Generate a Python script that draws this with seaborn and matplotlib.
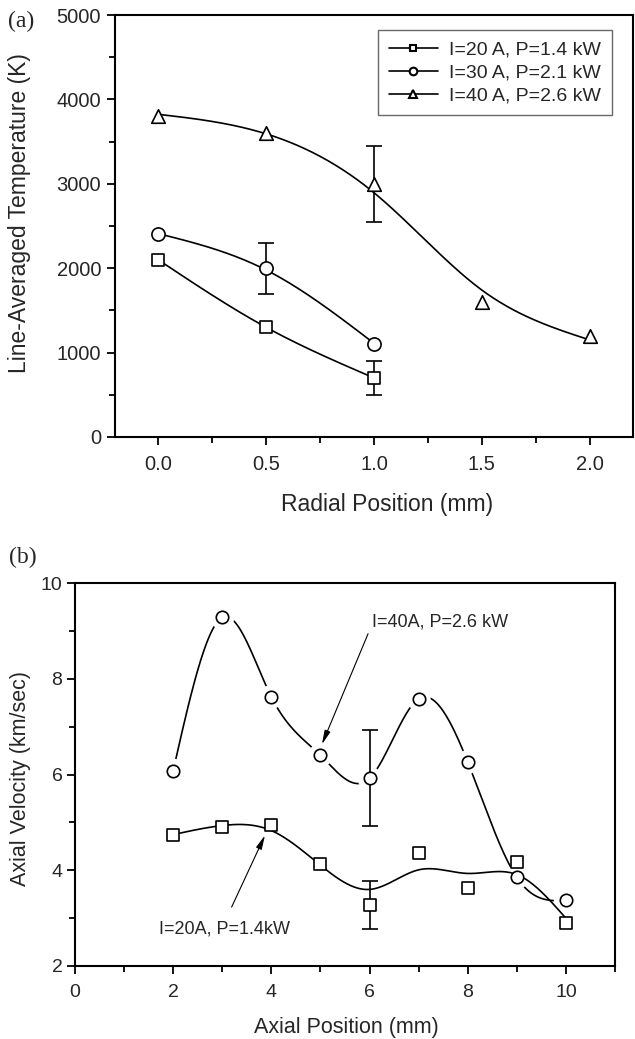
import numpy as np
import matplotlib
matplotlib.use("Agg")
import matplotlib.pyplot as plt
import seaborn as sns
from matplotlib.lines import Line2D
from matplotlib.ticker import MultipleLocator

# ---------------- data: panel (a) ----------------
radial_pos_short = [0.0, 0.5, 1.0]
temp_20A = [2100, 1300, 700]
temp_30A = [2400, 2000, 1100]
radial_pos_long = [0.0, 0.5, 1.0, 1.5, 2.0]
temp_40A = [3800, 3600, 3000, 1600, 1200]
err_a_x = [1.0, 0.5, 1.0]
err_a_y = [700, 2000, 3000]
err_a_size = [200, 300, 450]
labels_a = ["I=20 A, P=1.4 kW", "I=30 A, P=2.1 kW", "I=40 A, P=2.6 kW"]

# ---------------- data: panel (b) ----------------
axial_pos = [2, 3, 4, 5, 6, 7, 8, 9, 10]
vel_40A = [6.08, 9.28, 7.62, 6.40, 5.92, 7.58, 6.26, 3.85, 3.37]
vel_20A = [4.73, 4.90, 4.95, 4.14, 3.28, 4.37, 3.62, 4.18, 2.89]
err_b_x = [6, 6]
err_b_y = [5.92, 3.28]
err_b_size = [1.0, 0.5]
label_40A_b = "I=40A, P=2.6 kW"
label_20A_b = "I=20A, P=1.4kW"


def smooth_spline(x, y, lam, n=400):
    """Cubic smoothing spline (Reinsch); lam=0 gives natural interpolating spline."""
    x = np.asarray(x, float)
    y = np.asarray(y, float)
    nn = len(x)
    h = np.diff(x)
    Q = np.zeros((nn, nn - 2))
    R = np.zeros((nn - 2, nn - 2))
    for j in range(1, nn - 1):
        c = j - 1
        Q[j - 1, c] = 1 / h[j - 1]
        Q[j, c] = -1 / h[j - 1] - 1 / h[j]
        Q[j + 1, c] = 1 / h[j]
        R[c, c] = (h[j - 1] + h[j]) / 3
        if c + 1 < nn - 2:
            R[c, c + 1] = h[j] / 6
            R[c + 1, c] = h[j] / 6
    gi = np.linalg.solve(R + lam * Q.T @ Q, Q.T @ y)
    g = y - lam * Q @ gi
    gam = np.concatenate([[0.0], gi, [0.0]])
    xs = np.linspace(x[0], x[-1], n)
    idx = np.clip(np.searchsorted(x, xs) - 1, 0, nn - 2)
    xl, xr = x[idx], x[idx + 1]
    hh = xr - xl
    a = xs - xl
    b = xr - xs
    ys = (a * g[idx + 1] + b * g[idx]) / hh - a * b / 6 * (
        (1 + a / hh) * gam[idx + 1] + (1 + b / hh) * gam[idx])
    return xs, ys


sns.set_theme(style="ticks")
plt.rcParams['font.family'] = ['Liberation Sans', 'DejaVu Sans']
plt.rcParams['axes.linewidth'] = 1.5

fig = plt.figure(figsize=(6.35, 10.39), dpi=100)
W, H = 635.0, 1039.0
ax_a = fig.add_axes([115 / W, 1 - 437 / H, 518 / W, 422 / H])
ax_b = fig.add_axes([75 / W, 1 - 966 / H, 540 / W, 383 / H])

LW = 1.2

# ---------------- panel (a) ----------------
curves_a = [
    smooth_spline(radial_pos_short, temp_20A, 0.0),
    smooth_spline(radial_pos_short, temp_30A, 0.002),
    smooth_spline(radial_pos_long, temp_40A, 0.006),
]
for xs, ys in curves_a:
    sns.lineplot(x=xs, y=ys, ax=ax_a, color='black', lw=LW, estimator=None,
                 sort=False, zorder=2)

ax_a.errorbar(err_a_x, err_a_y, yerr=err_a_size, fmt='none', ecolor='black',
              elinewidth=LW, capsize=6, capthick=LW, zorder=2.5)

sns.scatterplot(x=radial_pos_short, y=temp_20A, ax=ax_a, marker='s', s=78,
                facecolor='white', edgecolor='black', linewidth=LW, zorder=3)
sns.scatterplot(x=radial_pos_short, y=temp_30A, ax=ax_a, marker='o', s=90,
                facecolor='white', edgecolor='black', linewidth=LW, zorder=3)
sns.scatterplot(x=radial_pos_long, y=temp_40A, ax=ax_a, marker='^', s=95,
                facecolor='white', edgecolor='black', linewidth=LW, zorder=3)

ax_a.set_xlim(-0.2, 2.2)
ax_a.set_ylim(0, 5000)
ax_a.xaxis.set_major_locator(MultipleLocator(0.5))
ax_a.xaxis.set_minor_locator(MultipleLocator(0.25))
ax_a.yaxis.set_major_locator(MultipleLocator(1000))
ax_a.yaxis.set_minor_locator(MultipleLocator(500))
ax_a.xaxis.set_major_formatter(matplotlib.ticker.FormatStrFormatter('%.1f'))
ax_a.set_xlabel("Radial Position (mm)", fontsize=16.5)
ax_a.set_ylabel("Line-Averaged Temperature (K)", fontsize=16.5)
ax_a.xaxis.set_label_coords(0.525, -0.132)
ax_a.yaxis.set_label_coords(-0.162, 0.53)
ax_a.tick_params(axis='both', which='major', direction='out', length=6,
                 width=1.3, labelsize=14.5, color='black')
ax_a.tick_params(axis='both', which='minor', direction='out', length=4,
                 width=1.3, color='black')
ax_a.tick_params(axis='x', which='major', pad=7)
ax_a.tick_params(axis='y', which='major', pad=4)

handles = [
    Line2D([], [], color='black', lw=LW, marker='s', markersize=5,
           markerfacecolor='white', markeredgecolor='black', markeredgewidth=1.5),
    Line2D([], [], color='black', lw=LW, marker='o', markersize=5.5,
           markerfacecolor='white', markeredgecolor='black', markeredgewidth=1.5),
    Line2D([], [], color='black', lw=LW, marker='^', markersize=6,
           markerfacecolor='white', markeredgecolor='black', markeredgewidth=1.5),
]
leg = ax_a.legend(handles, labels_a, loc='upper right',
                  bbox_to_anchor=(0.959, 0.964), borderaxespad=0,
                  fontsize=14, frameon=True, fancybox=False, handlelength=2.5,
                  handletextpad=0.6, labelspacing=0.28, borderpad=0.55)
leg.get_frame().set_edgecolor('#444444')
leg.get_frame().set_linewidth(1.0)

# ---------------- panel (b) ----------------
xs40, ys40 = smooth_spline(axial_pos, vel_40A, 0.0)
xs20, ys20 = smooth_spline(axial_pos, vel_20A, 0.07)
sns.lineplot(x=xs40, y=ys40, ax=ax_b, color='black', lw=LW, estimator=None,
             sort=False, zorder=2)
# white halos that open a gap in the curve around each circle
sns.scatterplot(x=axial_pos, y=vel_40A, ax=ax_b, marker='o', s=300,
                facecolor='white', edgecolor='none', linewidth=0, zorder=2.2)
sns.lineplot(x=xs20, y=ys20, ax=ax_b, color='black', lw=LW, estimator=None,
             sort=False, zorder=2.4)
ax_b.errorbar(err_b_x, err_b_y, yerr=err_b_size, fmt='none', ecolor='black',
              elinewidth=LW, capsize=6, capthick=LW, zorder=2.5)
sns.scatterplot(x=axial_pos, y=vel_40A, ax=ax_b, marker='o', s=80,
                facecolor='white', edgecolor='black', linewidth=LW, zorder=3)
sns.scatterplot(x=axial_pos, y=vel_20A, ax=ax_b, marker='s', s=66,
                facecolor='white', edgecolor='black', linewidth=LW, zorder=3)

ax_b.text(6.05, 9.19, label_40A_b, fontsize=13, ha='left', va='center')
ax_b.annotate('', xy=(5.03, 6.63), xytext=(5.97, 8.94),
              arrowprops=dict(arrowstyle='-|>,head_length=0.7,head_width=0.15',
                              color='black', lw=0.8, shrinkA=0, shrinkB=0))
ax_b.text(1.71, 2.78, label_20A_b, fontsize=13, ha='left', va='center')
ax_b.annotate('', xy=(3.87, 4.73), xytext=(3.19, 3.23),
              arrowprops=dict(arrowstyle='-|>,head_length=0.7,head_width=0.15',
                              color='black', lw=0.8, shrinkA=0, shrinkB=0))

ax_b.set_xlim(0, 11)
ax_b.set_ylim(2, 10)
ax_b.xaxis.set_major_locator(MultipleLocator(2))
ax_b.xaxis.set_minor_locator(MultipleLocator(1))
ax_b.yaxis.set_major_locator(MultipleLocator(2))
ax_b.yaxis.set_minor_locator(MultipleLocator(1))
ax_b.set_xlabel("Axial Position (mm)", fontsize=15.5)
ax_b.set_ylabel("Axial Velocity (km/sec)", fontsize=15.5)
ax_b.xaxis.set_label_coords(0.502, -0.133)
ax_b.yaxis.set_label_coords(-0.081, 0.49)
ax_b.tick_params(axis='both', which='major', direction='out', length=6,
                 width=1.3, labelsize=14, color='black')
ax_b.tick_params(axis='both', which='minor', direction='out', length=4,
                 width=1.3, color='black')
ax_b.tick_params(axis='x', which='major', pad=7)
ax_b.tick_params(axis='y', which='major', pad=3)

for ax in (ax_a, ax_b):
    for sp in ax.spines.values():
        sp.set_visible(True)
        sp.set_color('black')
        sp.set_linewidth(1.5)
    ax.set_facecolor('white')

fig.text(8 / W, 1 - 21 / H, "(a)", family='Liberation Serif', fontsize=17,
         ha='left', va='center')
fig.text(9 / W, 1 - 557 / H, "(b)", family='Liberation Serif', fontsize=17,
         ha='left', va='center')

fig.savefig("out.png", dpi=100, facecolor='white')
